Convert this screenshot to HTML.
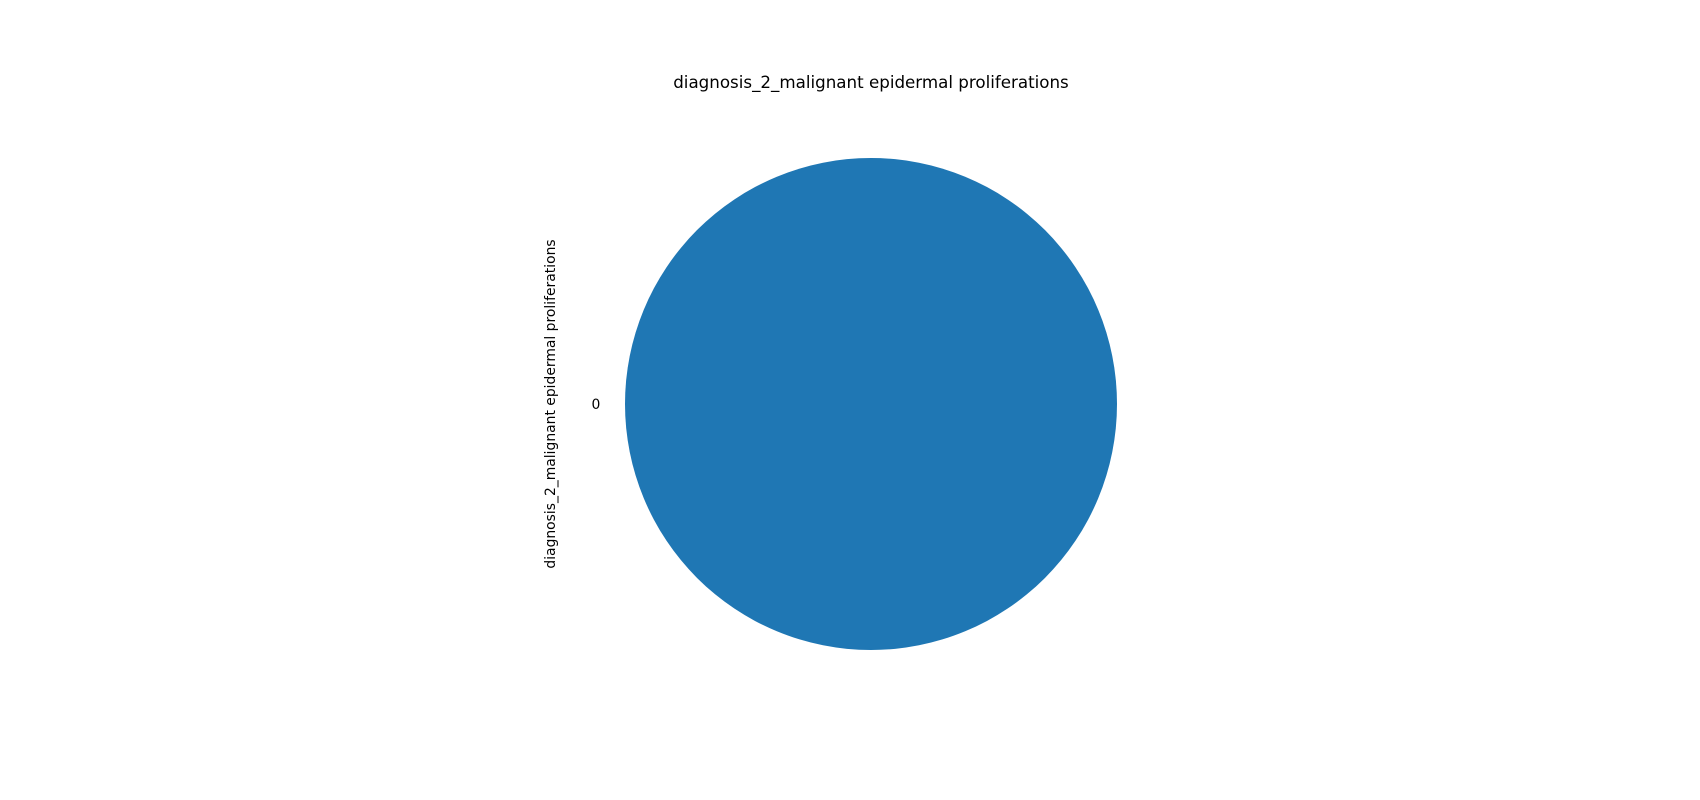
<!DOCTYPE html>
<html><head><meta charset="utf-8"><style>
html,body{margin:0;padding:0;background:#fff;width:1700px;height:800px;overflow:hidden;font-family:"DejaVu Sans","Liberation Sans",sans-serif;}
</style></head><body>
<svg id="chart" width="1700" height="800">
<text x="871" y="88" text-anchor="middle" font-size="16.7" fill="#000">diagnosis_2_malignant epidermal proliferations</text>
<text transform="translate(555,404) rotate(-90)" text-anchor="middle" font-size="13.9" fill="#000">diagnosis_2_malignant epidermal proliferations</text>
<g id="slices"></g>
</svg>
<script>
const categories = ["0"];
const values = [1];
const colors = ["#1f77b4"];
const cx = 871, cy = 404, r = 246;
const g = document.getElementById('slices');
const total = values.reduce((a,b)=>a+b,0);
let start = 0;
values.forEach((v,i)=>{
  const frac = v/total;
  const a0 = start*2*Math.PI, a1 = (start+frac)*2*Math.PI;
  let el;
  if (frac >= 0.9999) {
    el = document.createElementNS('http://www.w3.org/2000/svg','circle');
    el.setAttribute('cx',cx); el.setAttribute('cy',cy); el.setAttribute('r',r);
  } else {
    el = document.createElementNS('http://www.w3.org/2000/svg','path');
    const x0=cx+r*Math.cos(a0), y0=cy-r*Math.sin(a0), x1=cx+r*Math.cos(a1), y1=cy-r*Math.sin(a1);
    el.setAttribute('d',`M${cx},${cy} L${x0},${y0} A${r},${r} 0 ${frac>0.5?1:0} 0 ${x1},${y1} Z`);
  }
  el.setAttribute('fill',colors[i%colors.length]);
  
  
  g.appendChild(el);
  const mid=(start+frac/2)*2*Math.PI;
  const t=document.createElementNS('http://www.w3.org/2000/svg','text');
  const lx=cx+1.1*r*Math.cos(mid+Math.PI), ly=cy-1.1*r*Math.sin(mid+Math.PI);
  t.setAttribute('x', frac>=0.9999 ? cx-1.1*r : cx+1.1*r*Math.cos(mid));
  t.setAttribute('y', (frac>=0.9999 ? cy : cy-1.1*r*Math.sin(mid)) + 5);
  t.setAttribute('text-anchor','end');
  t.setAttribute('font-size','13.9');
  t.textContent=categories[i];
  
  
  g.appendChild(t);
  start+=frac;
});
</script>
</body></html>
